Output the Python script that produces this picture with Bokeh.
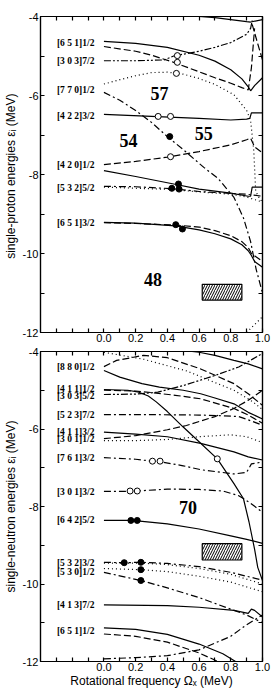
from bokeh.plotting import figure
from bokeh.models import FixedTicker, LinearAxis, Range1d, PrintfTickFormatter
from bokeh.layouts import column
from bokeh.embed import file_html
from bokeh.resources import INLINE
from bokeh.core.properties import value

# ---------------- proton panel data ----------------
p651a_x = [0, 0.2, 0.4, 0.6, 0.7, 0.8, 0.87, 0.91, 0.925, 0.95, 1.0]
p651a_y = [-4.63, -4.68, -4.78, -4.98, -5.13, -5.35, -5.58, -5.78, -5.88, -5.75, -5.55]
p651b_x = [0, 0.2, 0.3, 0.44, 0.6, 0.7, 0.8, 0.87, 0.91, 0.93, 0.95]
p651b_y = [-4.76, -4.88, -4.98, -5.16, -5.40, -5.55, -5.69, -5.80, -5.86, -5.3, -4.3]
p303_x = [0, 0.2, 0.38, 0.44, 0.6, 0.7, 0.8, 0.9, 0.925, 0.935]
p303_y = [-5.12, -5.12, -5.10, -5.0, -4.88, -4.78, -4.66, -4.45, -4.3, -4.1]
p770a_x = [0, 0.1, 0.2, 0.3, 0.4, 0.5, 0.6, 0.7, 0.82, 0.9, 0.925, 0.945, 0.957, 0.98, 1.0]
p770a_y = [-5.71, -5.6, -5.5, -5.42, -5.41, -5.46, -5.57, -5.72, -5.98, -6.38, -6.63, -7.4, -8.42, -8.6, -8.7]
p770b_x = [0, 0.1, 0.2, 0.3, 0.4, 0.5, 0.63, 0.72, 0.82, 0.88, 0.925, 0.96, 1.0]
p770b_y = [-5.92, -6.12, -6.38, -6.68, -7.04, -7.37, -7.82, -8.1, -8.58, -9.1, -9.7, -10.4, -11.0]
p422_x = [0, 0.3, 0.6, 0.8, 0.9, 0.92, 0.93, 1.0]
p422_y = [-6.48, -6.53, -6.58, -6.62, -6.6, -6.58, -6.44, -6.44]
p420a_x = [0, 0.2, 0.4, 0.6, 0.8, 0.9, 0.925, 0.95, 1.0]
p420a_y = [-7.75, -7.67, -7.56, -7.42, -7.25, -7.12, -7.08, -7.3, -7.45]
p420b_x = [0, 0.2, 0.44, 0.6, 0.8, 0.91, 0.925, 0.935, 1.0]
p420b_y = [-7.9, -8.05, -8.24, -8.37, -8.47, -8.55, -8.55, -8.32, -8.32]
p532a_x = [0, 0.2, 0.43, 0.6, 0.8, 0.9, 1.0]
p532a_y = [-8.30, -8.31, -8.36, -8.43, -8.48, -8.5, -8.55]
p532b_x = [0, 0.43, 0.6, 0.8, 0.9, 1.0]
p532b_y = [-8.32, -8.38, -8.44, -8.5, -8.57, -8.7]
p651c_x = [0, 0.2, 0.45, 0.6, 0.7, 0.8, 0.87, 0.91, 0.93, 0.95, 1.0]
p651c_y = [-9.21, -9.23, -9.3, -9.4, -9.5, -9.63, -9.78, -9.93, -10.05, -10.2, -10.35]
p651d_x = [0, 0.2, 0.45, 0.6, 0.7, 0.8, 0.87, 0.91, 0.93, 1.0]
p651d_y = [-9.22, -9.24, -9.28, -9.33, -9.42, -9.55, -9.7, -9.85, -10.0, -10.2]
ptop_x = [0.6, 0.7, 0.8, 0.9, 0.925, 1.0]
ptop_y = [-4.0, -4.03, -4.08, -4.13, -4.14, -4.08]
pdash_x = [0.935, 0.97, 1.0]
pdash_y = [-4.2, -4.69, -5.1]
plow_x = [0.9, 0.95, 1.0]
plow_y = [-12.0, -11.8, -11.6]

p_open_x = [0.463, 0.463, 0.457, 0.342, 0.42, 0.42]
p_open_y = [-4.99, -5.16, -5.44, -6.53, -6.53, -7.55]
p_full_x = [0.415, 0.428, 0.47, 0.474, 0.453, 0.495]
p_full_y = [-7.04, -8.35, -8.24, -8.37, -9.27, -9.38]

p_labels = ["[6 5 1]1/2", "[3 0 3]7/2", "[7 7 0]1/2", "[4 2 2]3/2",
            "[4 2 0]1/2", "[5 3 2]5/2", "[6 5 1]3/2"]
p_label_y = [-4.68, -5.12, -5.85, -6.51, -7.75, -8.33, -9.23]
p_numbers = ["57", "54", "55", "48"]
p_num_x = [0.35, 0.155, 0.63, 0.31]
p_num_y = [-5.96, -7.14, -6.97, -10.65]
p_box = [0.62, 0.87, -10.78, -11.18]  # left, right, top, bottom

# ---------------- neutron panel data ----------------
n880a_x = [0, 0.08, 0.25, 0.4, 0.61, 0.82, 0.91, 1.0]
n880a_y = [-4.39, -4.23, -4.10, -4.16, -4.45, -4.83, -5.09, -5.39]
n880d_x = [0, 0.25, 0.52, 0.82, 0.94, 1.0]
n880d_y = [-4.02, -4.2, -4.5, -5.0, -5.3, -5.5]
ntop_x = [0.45, 0.6, 0.7, 0.82, 0.91, 1.0]
ntop_y = [-3.95, -4.02, -4.1, -4.23, -4.32, -4.45]
n880b_x = [0, 0.1, 0.24, 0.35, 0.5, 0.61, 0.7, 0.82, 0.91, 1.0]
n880b_y = [-4.49, -4.66, -4.83, -4.92, -5.0, -5.09, -5.2, -5.35, -5.57, -5.74]
n411a_x = [0, 0.15, 0.22, 0.28, 0.33, 0.4, 0.5, 0.6, 0.715, 0.82, 0.88, 0.915, 0.95, 0.97, 1.0]
n411a_y = [-4.98, -5.0, -5.05, -5.15, -5.3, -5.55, -5.95, -6.33, -6.77, -7.41, -7.8, -8.4, -9.1, -9.57, -9.91]
n411b_x = [0, 0.2, 0.3, 0.45, 0.61, 0.82, 0.9, 1.0]
n411b_y = [-5.0, -5.02, -5.06, -5.13, -5.22, -5.47, -5.62, -5.85]
n303_x = [0, 0.2, 0.34, 0.5, 0.7, 0.85, 0.94, 1.0]
n303_y = [-5.11, -5.1, -5.05, -4.88, -4.62, -4.4, -4.19, -4.05]
n523_x = [0, 0.3, 0.6, 0.75, 0.85, 0.9, 1.0]
n523_y = [-5.63, -5.63, -5.64, -5.66, -5.68, -5.75, -5.9]
n411c_x = [0, 0.2, 0.4, 0.61, 0.82, 0.91, 1.0]
n411c_y = [-6.08, -6.13, -6.2, -6.37, -6.59, -6.72, -6.8]
n301a_x = [0, 0.2, 0.4, 0.52, 0.7, 0.82, 0.91, 1.0]
n301a_y = [-6.25, -6.17, -6.02, -5.91, -5.68, -5.47, -5.26, -5.0]
n301b_x = [0, 0.2, 0.4, 0.6, 0.8, 0.9, 1.0]
n301b_y = [-6.3, -6.3, -6.27, -6.2, -6.15, -6.2, -6.35]
n761_x = [0, 0.2, 0.3, 0.35, 0.5, 0.61, 0.82, 0.9, 0.93, 1.0]
n761_y = [-6.74, -6.78, -6.83, -6.84, -6.95, -7.05, -7.16, -7.12, -6.9, -6.85]
n301c_x = [0, 0.165, 0.21, 0.4, 0.6, 0.75, 0.85, 0.92, 1.0]
n301c_y = [-7.61, -7.61, -7.6, -7.55, -7.56, -7.6, -7.72, -7.9, -8.15]
n642_x = [0, 0.17, 0.21, 0.4, 0.6, 0.8, 0.9, 1.0]
n642_y = [-8.36, -8.36, -8.37, -8.45, -8.58, -8.76, -8.85, -8.95]
n532a_x = [0, 0.128, 0.233, 0.4, 0.6, 0.8, 1.0]
n532a_y = [-9.44, -9.45, -9.44, -9.47, -9.55, -9.7, -9.9]
n532b_x = [0, 0.233, 0.4, 0.6, 0.8, 1.0]
n532b_y = [-9.46, -9.46, -9.5, -9.6, -9.75, -10.0]
n530a_x = [0, 0.233, 0.4, 0.6, 0.8, 1.0]
n530a_y = [-9.6, -9.63, -9.68, -9.8, -9.95, -10.2]
n530b_x = [0, 0.233, 0.4, 0.6, 0.8, 0.9, 1.0]
n530b_y = [-9.7, -9.91, -10.1, -10.35, -10.65, -10.8, -11.0]
n413_x = [0, 0.4, 0.6, 0.82, 0.91, 0.93, 0.95, 1.0]
n413_y = [-10.54, -10.56, -10.6, -10.68, -10.76, -10.65, -10.68, -10.85]
n651a_x = [0, 0.2, 0.4, 0.6, 0.75, 0.85]
n651a_y = [-11.13, -11.17, -11.3, -11.55, -11.8, -12.05]
n651b_x = [0, 0.2, 0.4, 0.6, 0.72]
n651b_y = [-11.29, -11.35, -11.5, -11.78, -12.0]
nrise_x = [0, 0.2, 0.4, 0.6, 0.8, 0.9, 1.0]
nrise_y = [-11.93, -11.9, -11.85, -11.7, -11.35, -11.05, -10.8]

n_open_x = [0.306, 0.354, 0.715, 0.165, 0.21]
n_open_y = [-6.83, -6.83, -6.77, -7.6, -7.6]
n_full_x = [0.17, 0.21, 0.128, 0.233, 0.233, 0.233]
n_full_y = [-8.36, -8.36, -9.45, -9.44, -9.63, -9.91]

n_labels = ["[8 8 0]1/2", "[4 1 1]1/2", "[3 0 3]5/2", "[5 2 3]7/2", "[4 1 1]3/2",
            "[3 0 1]1/2", "[7 6 1]3/2", "[3 0 1]3/2", "[6 4 2]5/2", "[5 3 2]3/2",
            "[5 3 0]1/2", "[4 1 3]7/2", "[6 5 1]1/2"]
n_label_y = [-4.39, -4.98, -5.16, -5.63, -6.08, -6.27, -6.74, -7.63, -8.36,
             -9.45, -9.68, -10.54, -11.2]
n_numbers = ["70"]
n_num_x = [0.53]
n_num_y = [-8.02]
n_box = [0.62, 0.87, -8.96, -9.38]

x_major = [0.0, 0.2, 0.4, 0.6, 0.8, 1.0]
x_minor = [-0.3, -0.2, -0.1, 0.1, 0.3, 0.5, 0.7, 0.9]
y_major = [-12, -10, -8, -6, -4]
y_minor = [-11, -9, -7, -5]
label_x = -0.06

DASH = {"solid": "solid", "dash": "7 3", "dashdot": "7 3 2 3",
        "dot": "1 3", "dashdotdot": "7 2 2 2 2 2"}

proton_curves = [
    (p651a_x, p651a_y, "solid"), (p651b_x, p651b_y, "dash"),
    (p303_x, p303_y, "dashdotdot"), (p770a_x, p770a_y, "dot"),
    (p770b_x, p770b_y, "dashdot"), (p422_x, p422_y, "solid"),
    (p420a_x, p420a_y, "dash"), (p420b_x, p420b_y, "solid"),
    (p532a_x, p532a_y, "dashdot"), (p532b_x, p532b_y, "dot"),
    (p651c_x, p651c_y, "solid"), (p651d_x, p651d_y, "dash"),
    (ptop_x, ptop_y, "solid"), (pdash_x, pdash_y, "dash"),
    (plow_x, plow_y, "dot"),
]
neutron_curves = [
    (n880a_x, n880a_y, "dash"), (n880d_x, n880d_y, "dot"),
    (ntop_x, ntop_y, "solid"), (n880b_x, n880b_y, "solid"),
    (n411a_x, n411a_y, "solid"), (n411b_x, n411b_y, "dash"),
    (n303_x, n303_y, "dashdotdot"), (n523_x, n523_y, "dashdot"),
    (n411c_x, n411c_y, "solid"), (n301a_x, n301a_y, "dash"),
    (n301b_x, n301b_y, "dot"), (n761_x, n761_y, "dashdot"),
    (n301c_x, n301c_y, "dashdot"), (n642_x, n642_y, "solid"),
    (n532a_x, n532a_y, "dashdot"), (n532b_x, n532b_y, "dot"),
    (n530a_x, n530a_y, "dot"), (n530b_x, n530b_y, "dashdot"),
    (n413_x, n413_y, "solid"), (n651a_x, n651a_y, "solid"),
    (n651b_x, n651b_y, "dash"), (nrise_x, nrise_y, "dashdot"),
]

SANS = "Liberation Sans"
SERIF = "Liberation Serif"


def mirror_axis(ticker):
    return LinearAxis(ticker=ticker, major_label_text_color=None,
                      major_label_text_font_size="1px",
                      major_tick_in=4, major_tick_out=0, minor_tick_in=4,
                      minor_tick_out=0, major_label_standoff=0,
                      axis_line_width=1.2, major_tick_line_width=1.2,
                      minor_tick_line_width=1.2)


def make_panel(height, border_top, border_bottom, ylabel, xlabel, curves,
               open_x, open_y, full_x, full_y, labels, label_y,
               numbers, num_x, num_y, box):
    p = figure(width=273, height=height, x_range=Range1d(-0.4, 1.0),
               y_range=Range1d(-12, -4), output_backend="svg",
               toolbar_location=None, min_border_left=39, min_border_right=11,
               min_border_top=border_top, min_border_bottom=border_bottom)
    p.grid.visible = False
    p.outline_line_color = "black"
    p.outline_line_width = 1.2
    p.background_fill_color = "white"
    p.border_fill_color = "white"

    xt = FixedTicker(ticks=x_major, minor_ticks=x_minor)
    yt = FixedTicker(ticks=y_major, minor_ticks=y_minor)
    for ax in p.xaxis:
        ax.ticker = xt
        ax.formatter = PrintfTickFormatter(format="%.1f")
    for ax in p.yaxis:
        ax.ticker = yt
        ax.formatter = PrintfTickFormatter(format="%d")
    for ax in list(p.xaxis) + list(p.yaxis):
        ax.major_tick_in = 4
        ax.major_tick_out = 0
        ax.minor_tick_in = 4
        ax.minor_tick_out = 0
        ax.axis_line_width = 1.2
        ax.major_tick_line_width = 1.2
        ax.minor_tick_line_width = 1.2
        ax.major_label_text_font = SANS
        ax.major_label_text_font_size = "11px"
        ax.major_label_text_color = "black"
        ax.axis_label_text_font = SANS
        ax.axis_label_text_font_size = "12px"
        ax.axis_label_text_font_style = "normal"
        ax.axis_label_text_color = "black"
    p.yaxis.major_label_standoff = 2
    p.yaxis.axis_label_standoff = 2
    p.yaxis.axis_label = ylabel
    p.xaxis.major_label_standoff = 1
    p.xaxis.axis_label_standoff = 0
    if xlabel:
        p.xaxis.axis_label = xlabel

    p.add_layout(mirror_axis(xt), "above")
    p.add_layout(mirror_axis(yt), "right")

    for xs, ys, style in curves:
        p.line(xs, ys, line_color="black", line_width=1.2,
               line_dash=DASH[style])

    p.quad(left=[box[0]], right=[box[1]], top=[box[2]], bottom=[box[3]],
           fill_color="white", line_color="black", line_width=1.2,
           hatch_pattern="/", hatch_color="black", hatch_scale=5,
           hatch_weight=1)

    p.scatter(open_x, open_y, size=6, marker="circle", fill_color="white",
              line_color="black", line_width=1)
    p.scatter(full_x, full_y, size=6, marker="circle", fill_color="black",
              line_color="black", line_width=1)

    p.text(x=[label_x] * len(labels), y=label_y, text=labels,
           text_font=value(SERIF), text_font_style="bold",
           text_font_size="9.5px", text_align="right",
           text_baseline="middle", text_color="black")
    p.text(x=num_x, y=num_y, text=numbers, text_font=value(SERIF),
           text_font_style="bold", text_font_size="18px",
           text_align="center", text_baseline="middle", text_color="black")
    return p


p1 = make_panel(345, 16, 13, "single-proton energies  \u03b5\u1d62 (MeV)", None,
                proton_curves, p_open_x, p_open_y, p_full_x, p_full_y,
                p_labels, p_label_y, p_numbers, p_num_x, p_num_y, p_box)
p2 = make_panel(345, 6, 29, "single-neutron energies \u03b5\u1d62 (MeV)",
                "Rotational frequency \u03a9\u2093 (MeV)",
                neutron_curves, n_open_x, n_open_y, n_full_x, n_full_y,
                n_labels, n_label_y, n_numbers, n_num_x, n_num_y, n_box)

p = column(p1, p2, spacing=0)
open("out.html", "w").write(file_html(p, INLINE))
